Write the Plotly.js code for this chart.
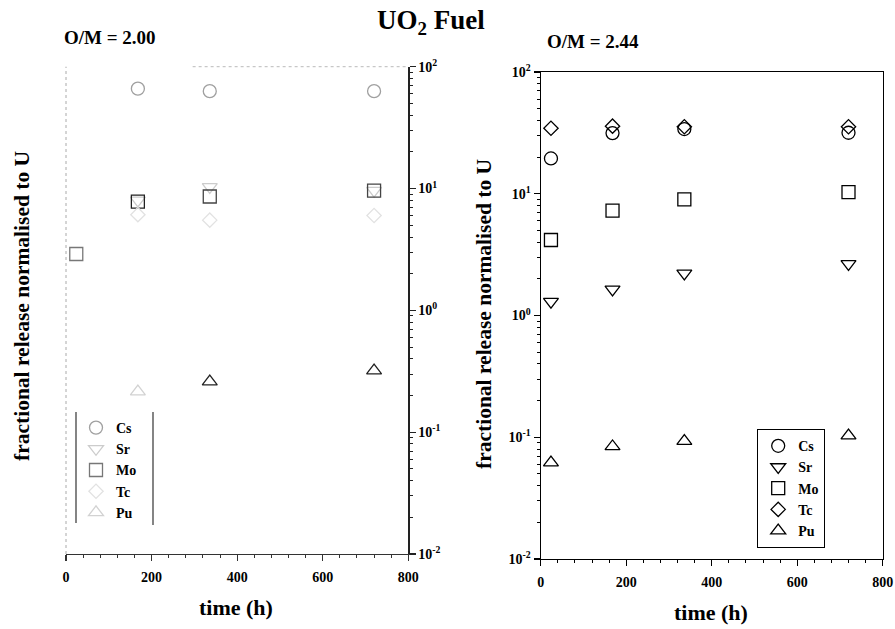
<!DOCTYPE html>
<html>
<head>
<meta charset="utf-8">
<script src="https://cdn.plot.ly/plotly-3.0.1.min.js"></script>
<style>html,body{margin:0;padding:0;background:#fff;}#chart{width:895px;height:629px;}</style>
</head>
<body>
<div id="chart"></div>
<script>
// ---- data: O/M = 2.00 (left panel) ----
var timeA = [168, 336, 720];
var timeA_Mo = [24, 168, 336, 720];
var csA = [66, 63, 63];
var srA = [8.0, 10.3, 9.6];
var moA = [2.9, 7.8, 8.6, 9.6];
var tcA = [6.1, 5.5, 6.0];
var puA = [0.215, 0.26, 0.32];

// ---- data: O/M = 2.44 (right panel) ----
var timeB = [24, 168, 336, 720];
var csB = [19.5, 31.5, 34, 31.7];
var srB = [1.30, 1.64, 2.22, 2.65];
var moB = [4.17, 7.26, 9.0, 10.3];
var tcB = [34.5, 35.9, 35.5, 35.5];
var puB = [0.062, 0.084, 0.093, 0.103];

var seriesNames = ['Cs', 'Sr', 'Mo', 'Tc', 'Pu'];
var yTickVals = [0.01, 0.1, 1, 10, 100];
var yTickText = ['10<sup>-2</sup>', '10<sup>-1</sup>', '10<sup>0</sup>', '10<sup>1</sup>', '10<sup>2</sup>'];

var minorVals = [];
[0.01, 0.1, 1, 10].forEach(function (d) { for (var k = 2; k <= 9; k++) minorVals.push(d * k); });

var serif = 'Liberation Serif, Times New Roman, serif';
var symbols = ['circle-open', 'triangle-down-open', 'square-open', 'diamond-open', 'triangle-up-open'];
var sizes = [13, 13, 13, 11, 13];

function tr(x, y, i, xa, ya, leg, color) {
  return {
    x: x, y: y, type: 'scatter', mode: 'markers', name: seriesNames[i],
    xaxis: xa, yaxis: ya, legend: leg,
    marker: { symbol: symbols[i], size: sizes[i], color: color, line: { color: color, width: 1.3 } }
  };
}

var traces = [
  tr(timeA, csA, 0, 'x', 'y', 'legend', '#a0a0a0'),
  tr(timeA, srA, 1, 'x', 'y', 'legend', '#cccccc'),
  tr(timeA_Mo, moA, 2, 'x', 'y', 'legend', ['#777', '#222', '#444', '#444']),
  tr(timeA, tcA, 3, 'x', 'y', 'legend', '#e2e2e2'),
  tr(timeA, puA, 4, 'x', 'y', 'legend', ['#d2d2d2', '#222', '#222']),
  tr(timeB, csB, 0, 'x2', 'y2', 'legend2', '#000'),
  tr(timeB, srB, 1, 'x2', 'y2', 'legend2', '#000'),
  tr(timeB, moB, 2, 'x2', 'y2', 'legend2', '#000'),
  tr(timeB, tcB, 3, 'x2', 'y2', 'legend2', '#000'),
  tr(timeB, puB, 4, 'x2', 'y2', 'legend2', '#000')
];

var tickFont = { family: serif, size: 14, color: '#000', weight: 'bold' };

function xAxis(domain, anchor, lc) {
  return {
    domain: domain, anchor: anchor, range: [0, 800], dtick: 200, tick0: 0,
    showgrid: false, zeroline: false, showline: true, linecolor: lc, linewidth: 1.2,
    ticks: 'outside', ticklen: 6, tickcolor: lc, tickwidth: 1.2, ticklabelstandoff: 4,
    minor: { dtick: 40, ticks: 'outside', ticklen: 3, tickcolor: lc, tickwidth: 1 },
    tickfont: tickFont, fixedrange: true
  };
}
function yAxis(domain, anchor, side, lc) {
  return {
    domain: domain, anchor: anchor, type: 'log', range: [-2, 2], side: side,
    tickmode: 'array', tickvals: yTickVals, ticktext: yTickText,
    showgrid: false, zeroline: false, showline: true, linecolor: lc, linewidth: 1.2,
    ticks: 'outside', ticklen: 6, tickcolor: lc, tickwidth: 1.2,
    minor: { tickmode: 'array', tickvals: minorVals, ticks: 'outside', ticklen: 3, tickcolor: lc, tickwidth: 1 },
    tickfont: tickFont, fixedrange: true
  };
}

var W = 895, H = 629;
function px(x) { return x / W; }
function py(y) { return 1 - y / H; }

var xa1 = xAxis([px(66), px(408.3)], 'y', '#333');
var ya1 = yAxis([py(554), py(66.7)], 'x', 'right', '#222');
var xa2 = xAxis([px(540.7), px(882.7)], 'y2', '#000');
xa2.mirror = true;
var ya2 = yAxis([py(559), py(72)], 'x2', 'left', '#000');
ya2.mirror = true;

var legFont = { family: serif, size: 14, color: '#000', weight: 'bold' };

function ann(text, x, y, size, angle) {
  return {
    text: text, xref: 'paper', yref: 'paper', x: px(x), y: py(y),
    xanchor: 'center', yanchor: 'middle', showarrow: false, textangle: angle || 0,
    font: { family: serif, size: size, color: '#000', weight: 'bold' }
  };
}

var layout = {
  width: W, height: H,
  margin: { l: 0, r: 0, t: 0, b: 0 },
  paper_bgcolor: '#fff', plot_bgcolor: '#fff',
  showlegend: true,
  xaxis: xa1, yaxis: ya1, xaxis2: xa2, yaxis2: ya2,
  legend: {
    x: px(76), y: py(412), xanchor: 'left', yanchor: 'top',
    bgcolor: 'rgba(0,0,0,0)', borderwidth: 0, font: legFont, tracegroupgap: 0
  },
  legend2: {
    x: px(757), y: py(429), xanchor: 'left', yanchor: 'top',
    bgcolor: '#fff', bordercolor: '#000', borderwidth: 1.2, font: legFont, tracegroupgap: 0
  },
  shapes: [
    { type: 'line', xref: 'x domain', yref: 'y domain', x0: 0, x1: 0, y0: 0, y1: 1,
      line: { color: '#aaa', width: 1, dash: 'dot' } },
    { type: 'line', xref: 'x domain', yref: 'y domain', x0: 0.37, x1: 1, y0: 1, y1: 1,
      line: { color: '#bbb', width: 1, dash: 'dot' } },
    { type: 'line', xref: 'paper', yref: 'paper', x0: px(76), x1: px(76), y0: py(412), y1: py(523),
      line: { color: '#333', width: 1.2 } },
    { type: 'line', xref: 'paper', yref: 'paper', x0: px(153), x1: px(153), y0: py(412), y1: py(525),
      line: { color: '#333', width: 1.2 } }
  ],
  annotations: [
    ann('UO<sub>2</sub> Fuel', 431, 22, 27),
    ann('O/M = 2.00', 110, 37, 19),
    ann('O/M = 2.44', 593, 41, 19),
    ann('time (h)', 236, 607, 22),
    ann('time (h)', 711, 612, 22),
    ann('fractional release normalised to U', 22, 306, 21.5, -90),
    ann('fractional release normalised to U', 484, 314, 21.5, -90)
  ]
};

Plotly.newPlot('chart', traces, layout, { displayModeBar: false, staticPlot: true });
</script>
</body>
</html>
